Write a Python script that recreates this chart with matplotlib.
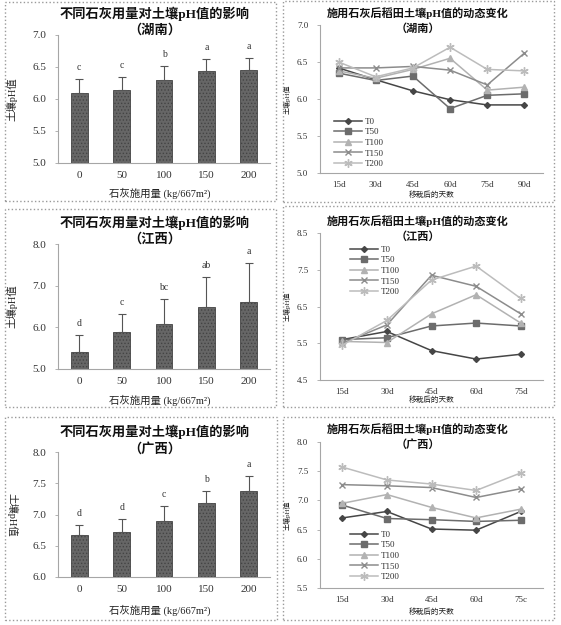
import numpy as np
import matplotlib
matplotlib.use('Agg')
from matplotlib import pyplot as plt
from matplotlib.patches import Rectangle

plt.rcParams['font.family'] = ['Liberation Serif', 'Noto Sans CJK SC']
plt.rcParams['hatch.linewidth'] = 0.6

# ---------------- data ----------------
doses = ['0', '50', '100', '150', '200']
days6 = ['15d', '30d', '45d', '60d', '75d', '90d']
days5 = ['15d', '30d', '45d', '60d', '75d']
days5_gx = ['15d', '30d', '45d', '60d', '75c']
series_names = ['T0', 'T50', 'T100', 'T150', 'T200']

# Hunan
hn_bar = [6.09, 6.14, 6.30, 6.44, 6.46]
hn_err = [0.23, 0.21, 0.22, 0.18, 0.18]
hn_letters = ['c', 'c', 'b', 'a', 'a']
hn_T0 = [6.42, 6.26, 6.11, 5.99, 5.92, 5.92]
hn_T50 = [6.35, 6.25, 6.31, 5.87, 6.05, 6.07]
hn_T100 = [6.38, 6.28, 6.40, 6.55, 6.12, 6.16]
hn_T150 = [6.42, 6.42, 6.44, 6.39, 6.19, 6.62]
hn_T200 = [6.50, 6.30, 6.42, 6.70, 6.40, 6.38]

# Jiangxi
jx_bar = [5.40, 5.88, 6.08, 6.48, 6.62]
jx_err = [0.42, 0.45, 0.60, 0.72, 0.93]
jx_letters = ['d', 'c', 'bc', 'ab', 'a']
jx_T0 = [5.60, 5.82, 5.30, 5.07, 5.20]
jx_T50 = [5.60, 5.65, 5.97, 6.05, 5.97]
jx_T100 = [5.55, 5.52, 6.30, 6.82, 6.05]
jx_T150 = [5.50, 6.00, 7.35, 7.05, 6.30]
jx_T200 = [5.45, 6.12, 7.22, 7.60, 6.72]

# Guangxi
gx_bar = [6.67, 6.72, 6.90, 7.19, 7.37]
gx_err = [0.17, 0.21, 0.23, 0.19, 0.25]
gx_letters = ['d', 'd', 'c', 'b', 'a']
gx_T0 = [6.70, 6.81, 6.51, 6.49, 6.81]
gx_T50 = [6.92, 6.69, 6.67, 6.64, 6.66]
gx_T100 = [6.95, 7.10, 6.88, 6.70, 6.85]
gx_T150 = [7.27, 7.25, 7.22, 7.05, 7.20]
gx_T200 = [7.57, 7.35, 7.28, 7.17, 7.47]

line_colors = ['#464646', '#6c6c6c', '#b2b2b2', '#8c8c8c', '#bcbcbc']
line_markers = ['D', 's', '^', 'x', (6, 2, 0)]
marker_sizes = [3, 5, 4, 5, 6]

W, H = 561, 625
fig = plt.figure(figsize=(W / 100, H / 100), dpi=100)


def px_axes(x0, y0, x1, y1):
    # axes from pixel box (top-left origin)
    return fig.add_axes([x0 / W, 1 - y1 / H, (x1 - x0) / W, (y1 - y0) / H])


def frame(x0, y0, x1, y1):
    fig.patches.append(Rectangle((x0 / W, 1 - y1 / H), (x1 - x0) / W, (y1 - y0) / H,
                                 transform=fig.transFigure, fill=False,
                                 edgecolor='#9a9a9a', linestyle=':', linewidth=1.0))


def style_axes(ax, fs):
    for s in ['top', 'right']:
        ax.spines[s].set_visible(False)
    for s in ['left', 'bottom']:
        ax.spines[s].set_color('#a6a6a6')
        ax.spines[s].set_linewidth(0.8)
    ax.tick_params(axis='y', length=2.5, width=0.6, color='#a6a6a6', labelsize=fs,
                   labelcolor='#333333', pad=6)
    ax.tick_params(axis='x', length=0, labelsize=fs, labelcolor='#333333', pad=6)


def bar_panel(box, vals, errs, letters, ylim, yticks, region, title_xy, ylab_x, ylab_rot, xlab_y):
    ax = px_axes(*box)
    x = np.arange(len(doses))
    ax.bar(x, vals, width=0.4, color='#666666', edgecolor='#444444', hatch='.....',
           linewidth=0.6, zorder=2)
    ax.errorbar(x, vals, yerr=[np.zeros(len(vals)), errs], fmt='none', ecolor='#555555',
                elinewidth=0.8, capsize=3, capthick=0.8, zorder=3)
    for xi, v, e, lab in zip(x, vals, errs, letters):
        ax.annotate(lab, (xi, v + e), xytext=(0, 5), textcoords='offset points',
                    ha='center', va='bottom', fontsize=7, color='#333333')
    ax.set_xlim(-0.5, 4.5)
    ax.set_ylim(*ylim)
    ax.set_yticks(yticks)
    ax.set_yticklabels(['%.1f' % t for t in yticks])
    ax.set_xticks(x)
    ax.set_xticklabels(doses)
    style_axes(ax, 8)
    fig.text(title_xy[0] / W, 1 - title_xy[1] / H,
             '不同石灰用量对土壤pH值的影响\n（' + region + '）',
             ha='center', va='top', fontsize=9.5, fontweight='bold',
             linespacing=1.3, color='#111111')
    yc = (box[1] + box[3]) / 2
    fig.text(ylab_x / W, 1 - yc / H, '土壤pH值', rotation=ylab_rot, ha='center',
             va='center', fontsize=7.5, color='#222222')
    fig.text(((box[0] + box[2]) / 2 - 4) / W, 1 - xlab_y / H, '石灰施用量 (kg/667m²)',
             ha='center', va='center', fontsize=7.5, color='#222222')
    return ax


def line_panel(box, labels, series, ylim, yticks, region, title_xy, ylab_x, xlab_y, leg_xy):
    ax = px_axes(*box)
    x = np.arange(len(labels))
    handles = []
    for name, ys, c, m, ms in zip(series_names, series, line_colors, line_markers, marker_sizes):
        h, = ax.plot(x, ys, color=c, marker=m, markersize=ms, linewidth=1.1,
                     markeredgewidth=1.0, label=name)
        handles.append(h)
    ax.set_xlim(-0.5, len(labels) - 0.5)
    ax.set_ylim(*ylim)
    ax.set_yticks(yticks)
    ax.set_yticklabels(['%.1f' % t for t in yticks])
    ax.set_xticks(x)
    ax.set_xticklabels(labels)
    style_axes(ax, 6.5)
    fig.text(title_xy[0] / W, 1 - title_xy[1] / H,
             '施用石灰后稻田土壤pH值的动态变化\n（' + region + '）',
             ha='center', va='top', fontsize=8, fontweight='bold',
             linespacing=1.45, color='#111111')
    yc = (box[1] + box[3]) / 2
    fig.text(ylab_x / W, 1 - yc / H, '土壤pH值', rotation=90, ha='center',
             va='center', fontsize=5, color='#222222')
    fig.text((box[0] + box[2]) / 2 / W, 1 - xlab_y / H, '移栽后的天数',
             ha='center', va='center', fontsize=5.5, color='#222222')
    fig.legend(handles=handles, loc='upper left', frameon=False, fontsize=6.5,
               bbox_to_anchor=(leg_xy[0] / W, 1 - leg_xy[1] / H), handlelength=3.2,
               labelspacing=0.25, borderpad=0, handletextpad=0.3, labelcolor='#333333')
    return ax


# panel frames
frame(5, 2, 276, 201)
frame(283, 1, 554, 202)
frame(5, 209, 276, 407)
frame(283, 206, 554, 407)
frame(5, 417, 277, 620)
frame(283, 417, 554, 620)

# row 1: Hunan
bar_panel((58, 35, 270, 163), hn_bar, hn_err, hn_letters, (5.0, 7.0),
          [5.0, 5.5, 6.0, 6.5, 7.0], '湖南', (155, 7), 12, 90, 193)
line_panel((320, 25, 543, 173), days6, [hn_T0, hn_T50, hn_T100, hn_T150, hn_T200],
           (5.0, 7.0), [5.0, 5.5, 6.0, 6.5, 7.0], '湖南', (418, 7), 287, 195, (329, 113))

# row 2: Jiangxi
bar_panel((58, 244, 270, 369), jx_bar, jx_err, jx_letters, (5.0, 8.0),
          [5.0, 6.0, 7.0, 8.0], '江西', (155, 216), 12, 90, 400)
line_panel((320, 233, 543, 380), days5, [jx_T0, jx_T50, jx_T100, jx_T150, jx_T200],
           (4.5, 8.5), [4.5, 5.5, 6.5, 7.5, 8.5], '江西', (418, 215), 287, 400, (345, 241))

# row 3: Guangxi
bar_panel((58, 452, 270, 577), gx_bar, gx_err, gx_letters, (6.0, 8.0),
          [6.0, 6.5, 7.0, 7.5, 8.0], '广西', (155, 425), 12, 270, 610)
line_panel((320, 442, 543, 588), days5_gx, [gx_T0, gx_T50, gx_T100, gx_T150, gx_T200],
           (5.5, 8.0), [5.5, 6.0, 6.5, 7.0, 7.5, 8.0], '广西', (418, 423), 287, 612, (345, 526))

fig.savefig('out.png', dpi=100, facecolor='white')
